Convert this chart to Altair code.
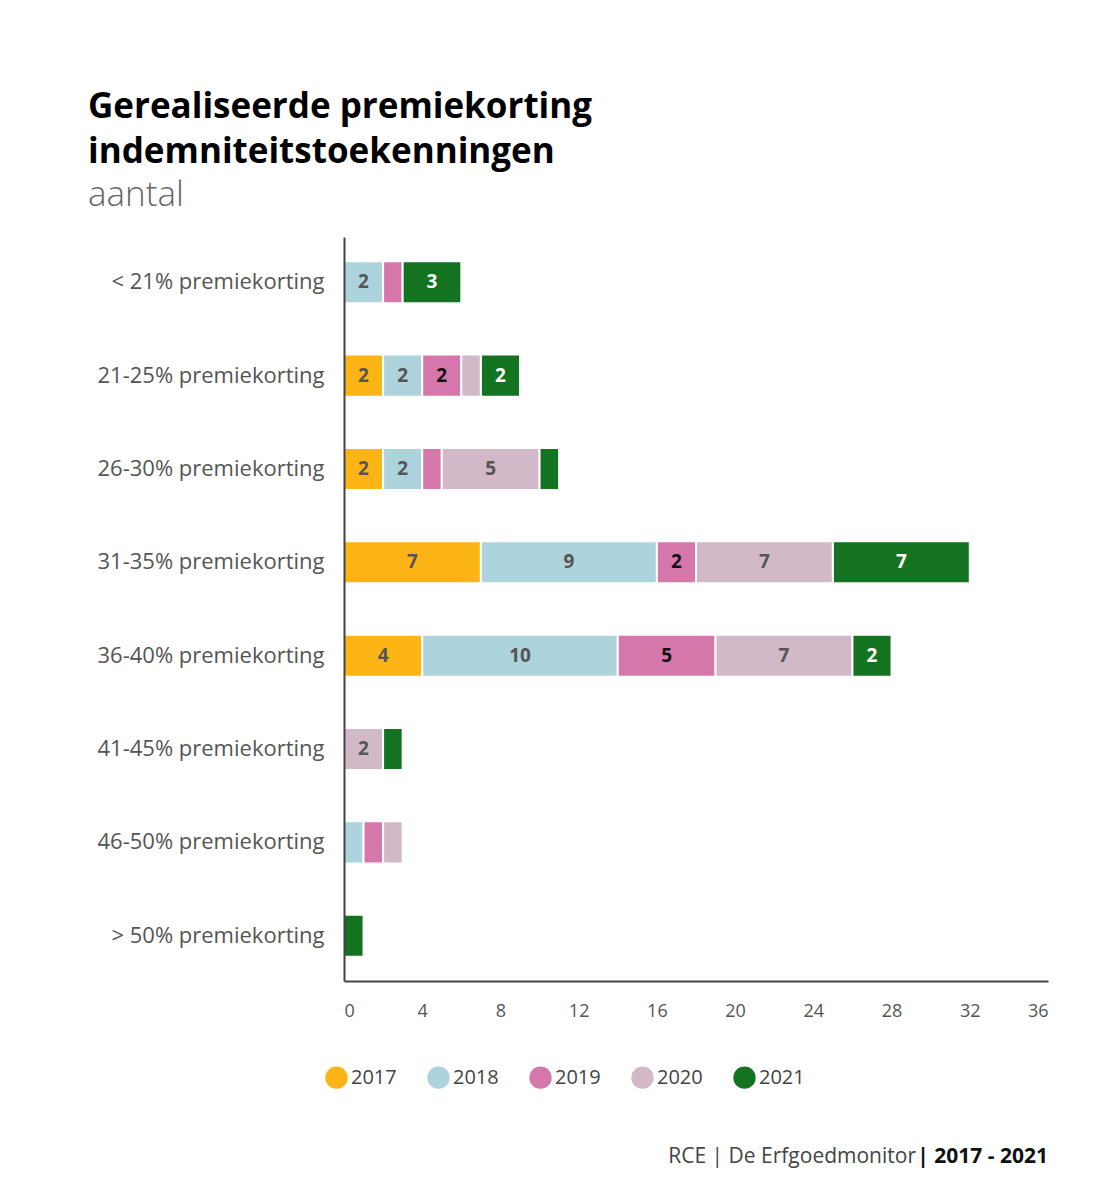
import altair as alt
import pandas as pd

categories = ["< 21% premiekorting", "21-25% premiekorting", "26-30% premiekorting",
              "31-35% premiekorting", "36-40% premiekorting", "41-45% premiekorting",
              "46-50% premiekorting", "> 50% premiekorting"]
years = ["2017", "2018", "2019", "2020", "2021"]
v2017 = [0, 2, 2, 7, 4, 0, 0, 0]
v2018 = [2, 2, 2, 9, 10, 0, 1, 0]
v2019 = [1, 2, 1, 2, 5, 0, 1, 0]
v2020 = [0, 1, 5, 7, 7, 2, 1, 0]
v2021 = [3, 2, 1, 7, 2, 1, 0, 1]
colors = ["#FDB515", "#ADD4DC", "#D677AB", "#D2B9C8", "#137321"]
text_colors = ["#555555", "#555555", "#111111", "#555555", "#FFFFFF"]
x_ticks = [0, 4, 8, 12, 16, 20, 24, 28, 32, 36]
title_lines = ["Gerealiseerde premiekorting", "indemniteitstoekenningen"]
subtitle = "aantal"
footer_normal = ["RCE | De Erfgoedmonitor"]
footer_bold = ["| 2017 - 2021"]

series = [v2017, v2018, v2019, v2020, v2021]
rows = []
for yi, (yr, vals) in enumerate(zip(years, series)):
    for ci, (cat, v) in enumerate(zip(categories, vals)):
        if v > 0:
            rows.append({"cat": cat, "year": yr, "order": yi, "value": v,
                         "tcolor": text_colors[yi]})
df = pd.DataFrame(rows)

W, H = 704, 744
FONT = "Open Sans"

base = alt.Chart(df).transform_stack(
    stack="value", groupby=["cat"], as_=["start", "end"],
    sort=[alt.SortField("order", order="ascending")]
).transform_calculate(mid="(datum.start + datum.end) / 2")

y_enc = alt.Y("cat:N", sort=categories, title=None,
              scale=alt.Scale(paddingInner=0.55, paddingOuter=0.26),
              axis=alt.Axis(labelFont=FONT, labelFontSize=22, labelColor="#555555",
                            labelPadding=20, ticks=False, domainColor="#444444",
                            domainWidth=2, labelLimit=400, zindex=1))

bars = base.mark_bar(stroke="white", strokeWidth=2).encode(
    x=alt.X("start:Q", title=None,
            scale=alt.Scale(domain=[0, 36], nice=False),
            axis=alt.Axis(values=x_ticks, grid=False, ticks=False, labelFont=FONT,
                          labelFontSize=18, labelColor="#555555", labelPadding=21,
                          domainColor="#444444", domainWidth=2, labelFlush=True,
                          zindex=1)),
    x2="end:Q",
    y=y_enc,
    color=alt.Color("year:N", scale=alt.Scale(domain=years, range=colors),
                    legend=alt.Legend(title=None, orient="none", direction="horizontal",
                                      legendX=-19, legendY=829, symbolType="circle",
                                      symbolSize=500, symbolStrokeWidth=0,
                                      labelFont=FONT, labelFontSize=20,
                                      labelColor="#444444", labelOffset=3,
                                      columnPadding=30, symbolOpacity=1)),
)

labels = base.transform_filter("datum.value >= 2").mark_text(
    font=FONT, fontSize=19, fontWeight="bold", baseline="middle"
).encode(
    x="mid:Q",
    y=alt.Y("cat:N", sort=categories),
    text="value:Q",
    color=alt.Color("tcolor:N", scale=None),
)

foot1 = alt.Chart(pd.DataFrame({"t": footer_normal})).mark_text(
    font=FONT, fontSize=21, color="#444444", align="right", baseline="alphabetic"
).encode(text="t:N", x=alt.value(572), y=alt.value(926))

foot2 = alt.Chart(pd.DataFrame({"t": footer_bold})).mark_text(
    font=FONT, fontSize=21, color="#111111", fontWeight="bold", align="right",
    baseline="alphabetic"
).encode(text="t:N", x=alt.value(W), y=alt.value(926))

chart = alt.layer(bars, labels, foot1, foot2).properties(
    width=W, height=H,
    autosize=alt.AutoSizeParams(type="none"),
    padding={"left": 336, "top": 229, "right": 40, "bottom": 200},
    title=alt.TitleParams(text=title_lines, subtitle=subtitle, anchor="start",
                          frame="group", dx=-256, offset=24, font=FONT, fontSize=35,
                          fontWeight="bold", color="#000000", lineHeight=45,
                          subtitleFont=FONT, subtitleFontSize=35,
                          subtitleColor="#666666", subtitleFontWeight=300,
                          subtitlePadding=8, subtitleLineHeight=40),
).configure(background="white", view=alt.ViewConfig(stroke="transparent", strokeWidth=0))

chart.save("out.html", embed_options={"renderer": "svg", "actions": False})
